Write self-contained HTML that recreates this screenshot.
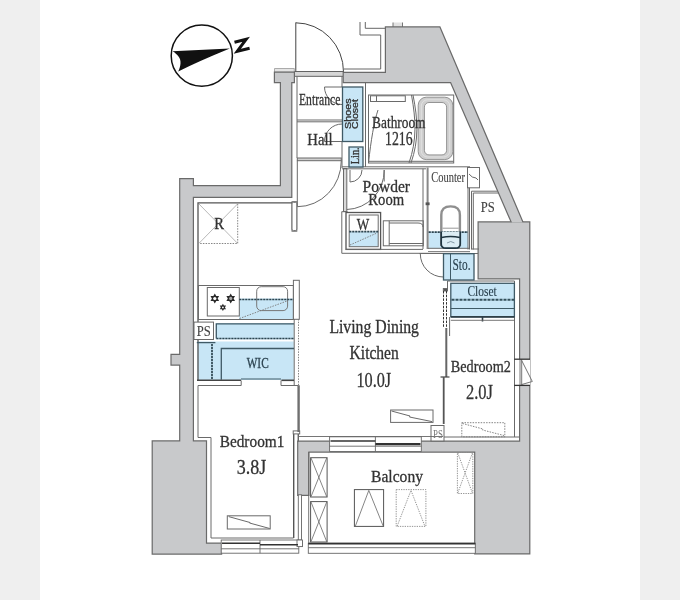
<!DOCTYPE html>
<html><head><meta charset="utf-8"><style>
html,body{margin:0;padding:0;background:#efefef;}
body{width:680px;height:600px;overflow:hidden;}
svg{display:block;will-change:transform;}
text{font-family:"Liberation Serif",serif;fill:#333;stroke:#333;stroke-width:0.3px;}
</style></head><body>
<svg width="680" height="600" viewBox="0 0 680 600">
<rect x="0" y="0" width="680" height="600" fill="#efefef"/>
<rect x="40" y="0" width="600" height="600" fill="#ffffff"/>

<!-- COMPASS -->
<g>
<circle cx="201.8" cy="55.7" r="30.6" fill="none" stroke="#111" stroke-width="1.5"/>
<path d="M172.5,51.2 L229.8,48.5 Q198,61.5 178.2,71.5 C181,66 181.5,60 178.5,56.5 C177,54.5 175,52.5 172.5,51.2 Z" fill="#111"/>
<path d="M234.5,42.3 L246.2,39.2 L237.3,51.2 L249.6,48.2" fill="none" stroke="#111" stroke-width="3" stroke-linejoin="miter"/>
</g>

<!-- ENTRANCE DOOR -->
<g fill="none" stroke="#444" stroke-width="1">
<line x1="295.8" y1="22.5" x2="295.8" y2="72"/>
<path d="M295.8,22.8 A48,49 0 0 1 343.5,72"/>
</g>
<rect x="294.5" y="71.5" width="49" height="4.8" fill="#d6d6d6" stroke="#555" stroke-width="0.9"/>

<!-- thin outlines top (stairs/duct) -->
<g fill="none" stroke="#666" stroke-width="1">
<polyline points="360,22 360,35 380.7,35 380.7,69 344,69"/>
<polyline points="365.3,22 365.3,28.3 386,28.3"/>
</g>

<!-- WALLS: stroke pass then fill pass -->
<rect x="274.6" y="68.6" width="19.6" height="3.6" fill="#e4e4e4" stroke="#9a9a9a" stroke-width="0.8"/>
<rect x="393" y="22.5" width="9.5" height="5" fill="#e2e2e2"/>
<path d="M393,22.5 V27 M402.5,22.5 V27" stroke="#777" stroke-width="1"/>
<defs>
<g id="walls">
<polygon points="275,72.8 293.8,72.8 293.8,82 291.2,82 291.2,196.8 192.8,196.8 192.8,441.5 205.9,441.5 205.9,543.8 221,543.8 221,553.5 152.8,553.5 152.8,441.5 180.3,441.5 180.3,364.5 171.6,364.5 171.6,355 180.3,355 180.3,179.3 192.8,179.3 192.8,186.3 281,186.3 281,82 275,82"/>
<polygon points="343.8,73 386,73 386,27.5 439.5,27.5 522.5,222.5 512,222.5 451,82 343.8,82"/>
<polygon points="478.7,222.5 529.2,222.5 529.2,553.3 475.3,553.3 475.3,451.5 308.3,451.5 308.3,494.8 298.3,494.8 298.3,441.8 520.2,441.8 520.2,278.3 478.7,278.3"/>
</g>
</defs>
<use href="#walls" fill="#c8c9cb" stroke="#6a6a6a" stroke-width="2.4"/>
<use href="#walls" fill="#c8c9cb" stroke="none"/>


<!-- BLUE FILLS -->
<g fill="#c8e6f6" stroke="none">
<rect x="349.2" y="231.7" width="29" height="15"/>
<rect x="428.6" y="231.7" width="39.5" height="16.6"/>
<rect x="239" y="298.5" width="55" height="20.5"/>
<rect x="215.8" y="323" width="78" height="16.5"/>
<rect x="197.5" y="341.5" width="96.3" height="38.5"/>
</g>


<!-- INTERIOR -->
<defs>
<path id="star6" d="M0,-5 L1.45,-2.5 L4.33,-2.5 L2.9,0 L4.33,2.5 L1.45,2.5 L0,5 L-1.45,2.5 L-4.33,2.5 L-2.9,0 L-4.33,-2.5 L-1.45,-2.5 Z"/>
</defs>
<g fill="none" stroke="#6a6a6a" stroke-width="1">
<!-- entrance -->
<line x1="297" y1="76.3" x2="297" y2="158"/>
<line x1="342" y1="76.3" x2="342" y2="87"/>
<line x1="297" y1="120" x2="342" y2="120"/>
<line x1="297" y1="121.8" x2="342" y2="121.8"/>
<polyline points="342,87 324.5,87"/>
<path d="M324.5,87 A17.5,17.5 0 0 0 342,104.5"/>
<polyline points="342,141.5 324.5,141.5"/>
<path d="M324.5,141.5 A17.5,17.5 0 0 1 342,124"/>
<line x1="342" y1="141.5" x2="342" y2="168"/>
<line x1="365.5" y1="82" x2="365.5" y2="167"/>
<!-- hall door -->
<rect x="297.3" y="158" width="44" height="2.7" fill="#d0d0d0"/>
<line x1="297.3" y1="160.7" x2="297.3" y2="206.8"/>
<path d="M297.3,206.7 A44,46 0 0 0 341.3,160.7"/>
<rect x="292" y="201.7" width="4.8" height="29.5" fill="#fff"/>
<!-- powder room -->
<rect x="343.5" y="168.5" width="3.3" height="43" fill="#d8d8d8"/>
<line x1="342" y1="166.8" x2="470" y2="166.8"/>
<line x1="342" y1="168.8" x2="426" y2="168.8"/>
<line x1="350" y1="170" x2="350" y2="182"/>
<path d="M350,182 A12,12 0 0 0 362,170"/>
<path d="M346.8,209.5 A38.5,39 0 0 0 384.2,170"/>
<line x1="384.2" y1="170" x2="384.2" y2="181.5"/>
<line x1="341.7" y1="211.7" x2="347.5" y2="211.7"/>
<rect x="346" y="212.5" width="34.6" height="36.9" fill="none" stroke="#555" stroke-width="1.3"/>
<rect x="349.2" y="215" width="29" height="31.7"/>
<rect x="383.3" y="220.8" width="40" height="25" />
<line x1="389.2" y1="220.8" x2="389.2" y2="245.8"/>
<path d="M389.2,223 L418,223 Q423,223 423,227"/>
<line x1="389.2" y1="243.5" x2="423.3" y2="243.5"/>
<line x1="423" y1="168.8" x2="423" y2="249"/>
<line x1="346" y1="249.4" x2="423" y2="249.4"/>
<polyline points="341.8,211.7 341.8,253.3 428,253.3"/>
<!-- bathroom -->
<rect x="368.5" y="95" width="85.2" height="68"/>
<line x1="368.5" y1="161.3" x2="453.7" y2="161.3"/>
<rect x="370.5" y="95.8" width="34.8" height="5.7"/>
<line x1="376.5" y1="95.8" x2="376.5" y2="101.5"/>
<path d="M368.5,163 C371,140 374,122 378,110"/>
<path d="M411.5,95 C416,120 417,140 409,163"/>
<path d="M413,95 C418,120 419,140 411,163"/>
<path fill-rule="evenodd" fill="#cfcfcf" stroke="#8a8a8a" stroke-width="0.9" d="M426.2,97.2 H444.8 A8,8 0 0 1 452.8,105.2 V151.6 A8,8 0 0 1 444.8,159.6 H426.2 A8,8 0 0 1 418.2,151.6 V105.2 A8,8 0 0 1 426.2,97.2 Z M429,102.5 H442 A4.6,4.6 0 0 1 446.6,107.1 V150.3 A4.6,4.6 0 0 1 442,154.9 H429 A4.6,4.6 0 0 1 424.4,150.3 V107.1 A4.6,4.6 0 0 1 429,102.5 Z"/>
<rect x="421.3" y="99.8" width="28.4" height="57.2" rx="6.2" stroke="#e4e4e4" stroke-width="0.8"/>
<!-- counter room -->
<line x1="427.6" y1="167.5" x2="427.6" y2="249" stroke="#888" stroke-width="2"/>
<rect x="425.6" y="202.4" width="4" height="2.8" fill="#555" stroke="none"/>
<rect x="467.5" y="167.5" width="12" height="20.3"/>
<path d="M469,174 Q472,178 476,178 L478,180"/>
<line x1="468" y1="187.8" x2="468" y2="249.5"/>
<line x1="469.5" y1="187.8" x2="469.5" y2="249.5"/>
<line x1="428" y1="248.3" x2="470" y2="248.3"/>
<line x1="428" y1="251.7" x2="470" y2="251.7"/>
<path d="M441.3,246 L441.3,215 Q441.3,206.4 450.6,206.4 Q459.9,206.4 459.9,215 L459.9,246" stroke="#8f8f8f" stroke-width="2.4"/>
<line x1="442.5" y1="228.2" x2="458.7" y2="228.2" stroke="#999"/>
<!-- PS upper right -->
<polyline points="471.5,249.5 471.5,191.2 497.7,191.2"/>
<polyline points="473.3,249.5 473.3,193 498.5,193"/>
<line x1="471.5" y1="249" x2="479" y2="249"/>
<!-- sto -->
<line x1="419.5" y1="253.5" x2="478" y2="253.5"/>
<path d="M420.3,253.7 A23.2,23.2 0 0 0 443.5,277"/>
<!-- kitchen -->
<polyline points="198,380 198,202.8 292,202.8" stroke="#555" stroke-width="1.3"/>
<rect x="292" y="202.3" width="4.8" height="28.3" rx="1.5" fill="#fff"/>
<rect x="198.4" y="285.5" width="95" height="34"/>
<rect x="207.3" y="287.5" width="32" height="28.5"/>
<rect x="256.7" y="286.7" width="30.9" height="23.9" rx="4.5" stroke="#777"/>
<rect x="293.4" y="280.3" width="5.9" height="39" fill="#fff"/>
<line x1="294.2" y1="319" x2="294.2" y2="385"/>
<rect x="194" y="322.1" width="19.5" height="17.4" fill="#fff"/>
<!-- bedroom1 -->
<polyline points="198,385.5 241.2,385.5 241.2,380.5"/>
<polyline points="281,380.5 281,385.5 298.5,385.5"/>
<line x1="298.6" y1="385.3" x2="298.6" y2="432" stroke="#707070" stroke-width="2.4"/>
<line x1="241" y1="379" x2="281" y2="379" stroke="#3f5a66"/>
<line x1="293.7" y1="434" x2="293.7" y2="538" stroke="#555" stroke-width="1.4"/>
<line x1="298.5" y1="434" x2="298.5" y2="441.5"/>
<polyline points="198,385.5 198,437.5 211,437.5 211,538 293.5,538"/>
<rect x="293.2" y="430.9" width="6.5" height="3"/>
<rect x="227.3" y="515.8" width="42.9" height="13.2"/>
<path d="M228.7,516.6 L250,522.5 L249.5,523 L269.7,528.5"/>
<!-- LDK -->
<rect x="390.6" y="410" width="42.4" height="12.4"/>
<path d="M391.5,411 L410,416 L409.5,417 L432,421.6"/>
<!-- bedroom2 -->
<polyline points="447.5,289 447.5,281 514.5,281"/>
<line x1="446.3" y1="328" x2="446.3" y2="377" stroke="#666" stroke-width="2"/>
<line x1="440.5" y1="377" x2="449.5" y2="377" stroke="#444" stroke-width="1.2"/>
<line x1="443.7" y1="377" x2="443.7" y2="424" stroke="#555" stroke-width="1.8"/>
<line x1="449.6" y1="317" x2="449.6" y2="336"/>
<line x1="514.5" y1="281" x2="514.5" y2="437"/>
<line x1="443" y1="437" x2="519" y2="437"/>
<rect x="431" y="425.5" width="13" height="15.5" fill="#fff"/>
</g>
<g fill="#2a2a2a" stroke="none">
<use href="#star6" transform="translate(214.8,298.5)"/>
<use href="#star6" transform="translate(230.7,298.4)"/>
<use href="#star6" transform="translate(222.9,307.4) scale(0.72)"/>
</g>
<g fill="#fff" stroke="none">
<circle cx="214.8" cy="298.5" r="1.6"/>
<circle cx="230.7" cy="298.4" r="1.6" fill="#aaa"/>
<circle cx="222.9" cy="307.4" r="0.9"/>
</g>
<!-- dotted/dashed lines -->
<g fill="none" stroke="#777" stroke-width="0.9" stroke-dasharray="1.5,1.2">
<polyline points="237.7,203.9 237.7,243.5 198.9,243.5"/>
<line x1="239.5" y1="318.5" x2="287" y2="301"/>
<line x1="298.5" y1="319" x2="298.5" y2="385"/>
<line x1="350" y1="245" x2="377" y2="233"/>
<rect x="461.8" y="422.7" width="43" height="14.1"/>
<path d="M462.5,423.5 L483,429 L482.5,430 L504,435.5"/>
</g>
<g fill="none" stroke="#999" stroke-width="0.7">
<line x1="199" y1="204" x2="237.5" y2="243.3"/>
<line x1="237.5" y1="204" x2="199" y2="243.3"/>
</g>
<g fill="none" stroke="#2d4550" stroke-width="1.7" stroke-dasharray="2.2,0.8">
<line x1="239.2" y1="299.5" x2="293.4" y2="299.5"/>
<line x1="216.3" y1="338.5" x2="294" y2="338.5"/>
<line x1="212" y1="344" x2="212" y2="379"/>
<line x1="349.2" y1="231.7" x2="378.2" y2="231.7"/>
<line x1="428.6" y1="232.2" x2="468" y2="232.2"/>
<line x1="450.8" y1="299.7" x2="514.4" y2="299.7"/>
</g>


<!-- WINDOWS & BALCONY -->
<g fill="#fff" stroke="#666" stroke-width="0.9">
<!-- LDK->balcony window -->
<rect x="329.6" y="436.8" width="91.7" height="14.7"/>
<line x1="329.6" y1="446.2" x2="421.3" y2="446.2"/>
<line x1="375.4" y1="436.8" x2="375.4" y2="451.5"/>
<!-- bedroom1 bottom window -->
<rect x="221.2" y="540" width="77.6" height="13.2"/>
<line x1="221.2" y1="548.8" x2="298.8" y2="548.8"/>
<line x1="260" y1="540" x2="260" y2="553.2"/>
<rect x="298" y="541" width="4.4" height="5.2"/>
<!-- balcony bottom rail -->
<rect x="308.3" y="543.2" width="167" height="10.1"/>
<line x1="308.3" y1="547.7" x2="475.3" y2="547.7"/>
<!-- balcony left door frame -->
<rect x="298.3" y="494.8" width="3.2" height="45.2"/>
<rect x="297" y="540" width="5.5" height="6.6"/>
<!-- bedroom2 right window -->
<rect x="515" y="359.2" width="15" height="26.2" stroke="none"/>
</g>
<g stroke="#333" stroke-width="1.6" fill="none">
<line x1="330.5" y1="441" x2="375.4" y2="441"/>
<line x1="375.4" y1="444.2" x2="420.5" y2="444.2" stroke-width="2.2"/>
<line x1="222" y1="543.2" x2="260" y2="543.2"/>
<line x1="260" y1="544.8" x2="298" y2="544.8"/>
<line x1="308.3" y1="543.6" x2="475.3" y2="543.6"/>
</g>
<g fill="none" stroke="#666" stroke-width="0.9">
<line x1="308.7" y1="452" x2="308.7" y2="543"/>
<line x1="298" y1="434" x2="298" y2="441.8"/>
<line x1="299" y1="436.5" x2="443" y2="436.5"/>
<line x1="520" y1="359.2" x2="520" y2="385.4"/>
<line x1="521.7" y1="359.2" x2="521.7" y2="385.4"/>
<path d="M521.7,360.5 L532.3,381.5 L521.7,384.5"/>
<line x1="514.2" y1="359.2" x2="530" y2="359.2" stroke="#333" stroke-width="1.3"/>
<line x1="514.2" y1="385.4" x2="530" y2="385.4" stroke="#333" stroke-width="1.3"/>
</g>
<!-- balcony boxes -->
<g fill="none" stroke="#555" stroke-width="1">
<rect x="310.6" y="457.7" width="16.5" height="39.3"/>
<rect x="310.6" y="501.6" width="16.5" height="40.4"/>
<rect x="354.4" y="489.6" width="29.2" height="36.8"/>
</g>
<g fill="none" stroke="#666" stroke-width="0.8">
<path d="M311,458 L326.7,496.7 M326.7,458 L311,496.7"/>
<path d="M311,502 L326.7,541.6 M326.7,502 L311,541.6"/>
<path d="M355.4,526 L368.8,490.4 L383.2,526"/>
</g>
<g fill="none" stroke="#888" stroke-width="0.9" stroke-dasharray="1.3,1.1">
<rect x="396.2" y="489.6" width="29.7" height="36.8"/>
<path d="M397.2,526 L411,490.4 L424.8,526"/>
<rect x="457.4" y="452.5" width="15.4" height="41"/>
<path d="M457.8,453 L472.4,493 M472.4,453 L457.8,493"/>
</g>
<!-- WIC inner -->
<g fill="none" stroke="#3f5a66" stroke-width="1.3">
<polyline points="294,348.5 221.3,348.5 221.3,379.8"/>
<polyline points="216.3,338.5 216.3,323.8 294,323.8"/>
<line x1="196.8" y1="342.6" x2="215.4" y2="342.6"/>
</g>
<g fill="none" stroke="#444" stroke-width="1.6">
<line x1="197" y1="380.3" x2="241" y2="380.3"/>
<line x1="281.4" y1="380.3" x2="294" y2="380.3"/>
</g>

<!-- BLUE AREAS -->
<g fill="#c8e6f6" stroke="#3f5a66" stroke-width="1.3">
<rect x="342.5" y="87" width="20.3" height="54.5"/>
<rect x="349" y="147" width="14" height="20"/>
<rect x="443.5" y="253.7" width="30.5" height="26.3"/>
<rect x="450.8" y="283.3" width="63.6" height="33.4"/>
</g>

<path d="M441.2,231.8 L441.2,244 Q441.2,248.2 446,248.2 L455.4,248.2 Q460.2,248.2 460.2,244 L460.2,231.8" fill="#dcedf4" stroke="#1f3540" stroke-width="1.7"/>
<path d="M441.5,237.4 Q450.7,235.8 459.9,237.4" fill="none" stroke="#1f3540" stroke-width="1.5"/>
<path d="M447,243 Q450.7,240 454.5,243" fill="none" stroke="#6b8290" stroke-width="0.8"/>
<g fill="none" stroke="#3f5a66" stroke-width="1">
<line x1="450.5" y1="254" x2="450.5" y2="280"/>
<line x1="450.8" y1="308.5" x2="514.4" y2="308.5"/>
</g>
<g fill="none" stroke="#34505b" stroke-width="1.9" stroke-dasharray="3,1">
<line x1="451.5" y1="299.7" x2="514" y2="299.7"/>
</g>
<g fill="none" stroke="#2f3f47" stroke-width="1.6">
<line x1="450.8" y1="316.9" x2="514.4" y2="316.9"/>
<line x1="482.5" y1="316.9" x2="482.5" y2="321.5"/>
</g>
<g fill="none" stroke="#666" stroke-width="0.9">
<line x1="450.8" y1="320.3" x2="514.4" y2="320.3"/>
<rect x="443.3" y="288.5" width="4.2" height="2.5" fill="#555"/>
</g>
<g fill="none" stroke="#333" stroke-width="1" stroke-dasharray="2.5,1.2">
<line x1="443.5" y1="291" x2="443.5" y2="328"/><line x1="446.5" y1="291" x2="446.5" y2="328"/>
</g>
<!-- TEXT -->
<g font-size="17.5">
<text x="299" y="104.7" textLength="41.4" lengthAdjust="spacingAndGlyphs">Entrance</text>
<text x="307.3" y="145.3" textLength="25.4" lengthAdjust="spacingAndGlyphs">Hall</text>
<text x="372.1" y="128.2" textLength="53.4" lengthAdjust="spacingAndGlyphs">Bathroom</text>
<text x="385" y="145.2" font-size="18.5" textLength="27.6" lengthAdjust="spacingAndGlyphs">1216</text>
<text x="362.5" y="191.7" textLength="47.5" lengthAdjust="spacingAndGlyphs">Powder</text>
<text x="368.3" y="205.3" textLength="35.9" lengthAdjust="spacingAndGlyphs">Room</text>
<text x="356.7" y="230" textLength="12.5" lengthAdjust="spacingAndGlyphs">W</text>
<text x="214.3" y="229" textLength="9.7" lengthAdjust="spacingAndGlyphs">R</text>
<text x="431.3" y="181.7" font-size="14" textLength="33.7" lengthAdjust="spacingAndGlyphs" style="stroke-width:0.1px;fill:#444">Counter</text>
<text x="452.5" y="270.2" font-size="16" textLength="18" lengthAdjust="spacingAndGlyphs" style="fill:#2c4350;stroke:#2c4350;stroke-width:0.15px">Sto.</text>
<text x="467.5" y="295.8" font-size="14" textLength="29.2" lengthAdjust="spacingAndGlyphs" style="fill:#2c4350;stroke:#2c4350;stroke-width:0.15px">Closet</text>
<text x="329.4" y="332.7" font-size="18" textLength="89.6" lengthAdjust="spacingAndGlyphs">Living Dining</text>
<text x="349.6" y="359.4" font-size="18" textLength="49.2" lengthAdjust="spacingAndGlyphs">Kitchen</text>
<text x="356.4" y="387.3" font-size="22" textLength="34.8" lengthAdjust="spacingAndGlyphs">10.0J</text>
<text x="450.8" y="371.7" font-size="16.5" textLength="60" lengthAdjust="spacingAndGlyphs">Bedroom2</text>
<text x="466" y="399" font-size="22" textLength="27" lengthAdjust="spacingAndGlyphs">2.0J</text>
<text x="246.7" y="368" font-size="14.3" textLength="22" lengthAdjust="spacingAndGlyphs" style="fill:#2c4350;stroke:#2c4350">WIC</text>
<text x="219.7" y="446.8" font-size="17.5" textLength="64.7" lengthAdjust="spacingAndGlyphs">Bedroom1</text>
<text x="236.8" y="474" font-size="22" textLength="29.5" lengthAdjust="spacingAndGlyphs">3.8J</text>
<text x="371" y="482" font-size="17.5" textLength="52" lengthAdjust="spacingAndGlyphs">Balcony</text>
<text x="480.8" y="212" font-size="14" textLength="14" lengthAdjust="spacingAndGlyphs" style="stroke-width:0.1px;fill:#444">PS</text>
<text x="196.7" y="335.5" font-size="14.5" textLength="14" lengthAdjust="spacingAndGlyphs" style="stroke-width:0.1px;fill:#444">PS</text>
<text x="433" y="437.7" font-size="12" textLength="9.8" lengthAdjust="spacingAndGlyphs" style="fill:#777;stroke-width:0">PS</text>
</g>
<g font-size="8.6" style="stroke-width:0">
<text transform="translate(350.6,128.9) rotate(-90)" style="font-family:'Liberation Sans',sans-serif" textLength="30.4" lengthAdjust="spacingAndGlyphs">Shoes</text>
<text transform="translate(358.4,128.9) rotate(-90)" style="font-family:'Liberation Sans',sans-serif" textLength="29.7" lengthAdjust="spacingAndGlyphs">Closet</text>
<text transform="translate(359.3,164.3) rotate(-90)" font-size="12" textLength="17" lengthAdjust="spacingAndGlyphs">Lin.</text>
</g>
</svg>
</body></html>
